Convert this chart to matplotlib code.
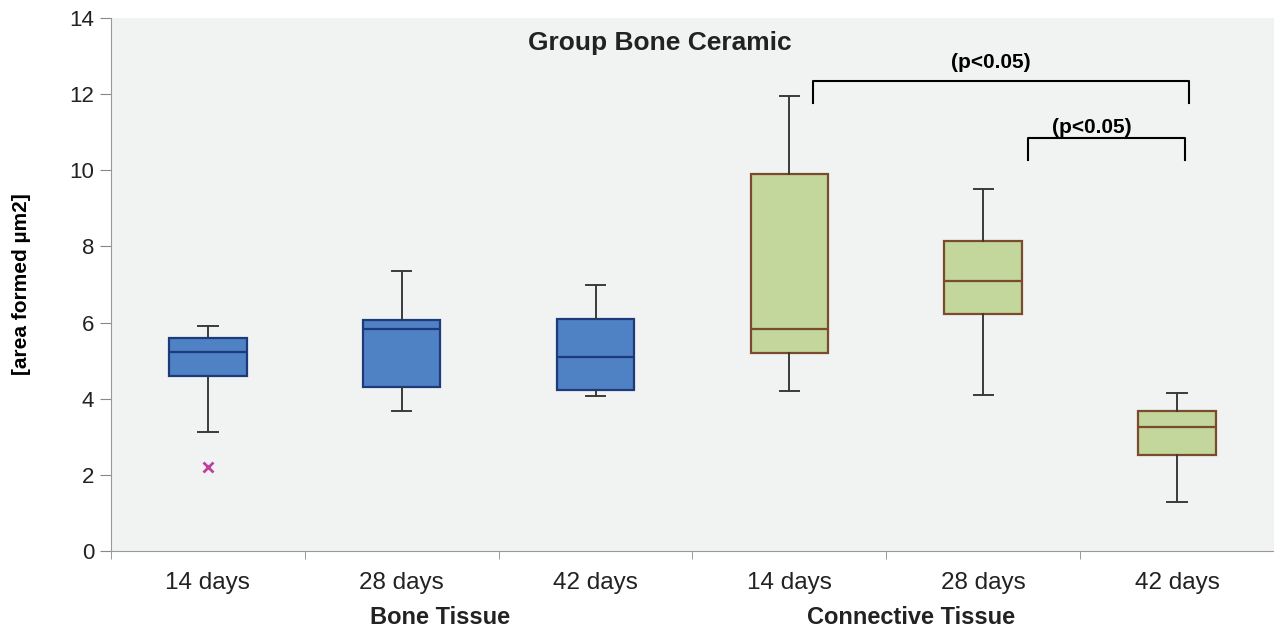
"""Box plot: area formed, Group Bone Ceramic, bone vs connective tissue."""

import matplotlib

matplotlib.use("Agg")

import matplotlib.pyplot as plt

plt.rcParams["font.family"] = ["Liberation Sans", "DejaVu Sans"]

# five-number summaries
labels = ["14 days", "28 days", "42 days", "14 days", "28 days", "42 days"]
whisker_low = [3.13, 3.68, 4.07, 4.20, 4.10, 1.29]
q1 = [4.60, 4.31, 4.23, 5.20, 6.23, 2.52]
median = [5.23, 5.83, 5.10, 5.83, 7.09, 3.26]
q3 = [5.60, 6.07, 6.09, 9.90, 8.14, 3.68]
whisker_high = [5.91, 7.35, 6.99, 11.95, 9.51, 4.15]
outliers = [[2.2], [], [], [], [], []]

groups = ["Bone Tissue", "Connective Tissue"]
group_x = [2.2, 4.63]

BLUE = "#4f81c5"
BLUE_EDGE = "#1f3a7a"
GREEN = "#c3d69b"
GREEN_EDGE = "#7a4b2c"


def main() -> None:
    fig = plt.figure(figsize=(12.74, 6.28), dpi=100)
    ax = fig.add_axes([0.0871, 0.1226, 0.9129, 0.8487])
    ax.set_facecolor("#f1f2f2")

    stats = []
    for i in range(len(labels)):
        stats.append({
            "whislo": whisker_low[i], "q1": q1[i], "med": median[i],
            "q3": q3[i], "whishi": whisker_high[i], "fliers": outliers[i],
        })

    positions = list(range(1, len(labels) + 1))
    bp = ax.bxp(stats, positions=positions, widths=0.4, patch_artist=True,
                showfliers=True,
                whiskerprops={"color": "#3a3a3a", "linewidth": 1.4},
                capprops={"color": "#3a3a3a", "linewidth": 1.4},
                flierprops={"marker": "x", "markeredgecolor": "#c0409e",
                            "markersize": 7, "markeredgewidth": 2})
    for i, box in enumerate(bp["boxes"]):
        if i < 3:
            box.set_facecolor(BLUE)
            box.set_edgecolor(BLUE_EDGE)
            bp["medians"][i].set_color(BLUE_EDGE)
        else:
            box.set_facecolor(GREEN)
            box.set_edgecolor(GREEN_EDGE)
            bp["medians"][i].set_color(GREEN_EDGE)
        box.set_linewidth(1.6)
        bp["medians"][i].set_linewidth(1.6)

    # caps shorter than box
    for cap in bp["caps"]:
        xs = cap.get_xdata()
        mid = (xs[0] + xs[1]) / 2
        cap.set_xdata([mid - 0.05, mid + 0.05])

    ax.set_xlim(0.5, 6.5)
    ax.set_ylim(0, 14)
    ax.set_yticks(range(0, 15, 2))
    ax.set_xticks(positions)
    ax.set_xticklabels(labels, fontsize=17.5, color="#222222")
    ax.set_xticks([0.5 + k for k in range(7)], minor=True)
    ax.tick_params(axis="x", which="major", length=0, pad=15)
    ax.tick_params(axis="x", which="minor", length=6, color="#888888")
    ax.tick_params(axis="y", labelsize=16, length=8, color="#888888",
                   labelcolor="#222222", pad=4)
    for side in ("top", "right"):
        ax.spines[side].set_visible(False)
    for side in ("left", "bottom"):
        ax.spines[side].set_color("#999999")

    ax.set_ylabel("[area formed µm2]", fontsize=15, fontweight="bold", labelpad=28)

    ax.text(3.33, 13.34, "Group Bone Ceramic", ha="center", va="center",
            fontsize=19, fontweight="bold", color="#222222")

    # significance brackets
    ax.plot([4.12, 4.12, 6.06, 6.06], [11.77, 12.35, 12.35, 11.77],
            color="black", linewidth=1.5)
    ax.text(5.04, 12.82, "(p<0.05)", ha="center", va="center",
            fontsize=15, fontweight="bold")
    ax.plot([5.23, 5.23, 6.04, 6.04], [10.27, 10.85, 10.85, 10.27],
            color="black", linewidth=1.5)
    ax.text(5.56, 11.12, "(p<0.05)", ha="center", va="center",
            fontsize=15, fontweight="bold")

    for name, gx in zip(groups, group_x):
        ax.text(gx, -0.104, name, transform=ax.get_xaxis_transform(),
                ha="center", va="top", fontsize=17, fontweight="bold",
                color="#222222")

    fig.savefig("out.png", dpi=100)
    plt.close(fig)


if __name__ == "__main__":
    main()
